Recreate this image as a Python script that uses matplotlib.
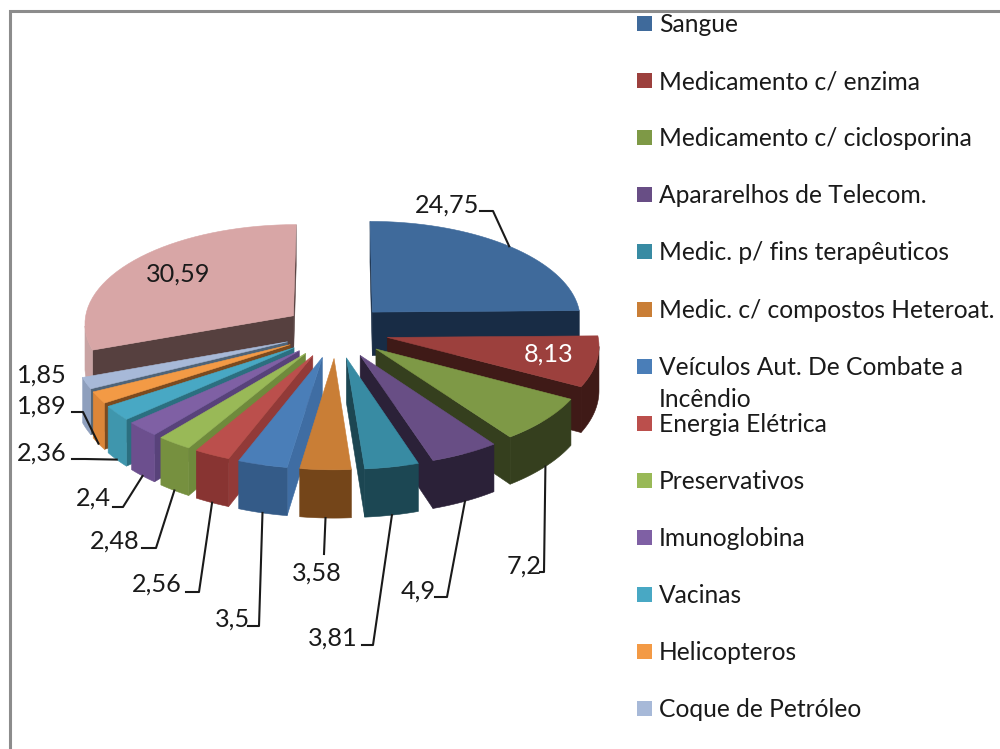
import numpy as np
import matplotlib.pyplot as plt
from matplotlib.patches import Polygon, Rectangle

plt.rcParams['font.family'] = ['Lato', 'DejaVu Sans']

# data
values = [24.75, 8.13, 7.2, 4.9, 3.81, 3.58, 3.5, 2.56, 2.48, 2.4, 2.36, 1.89, 1.85, 30.59]
value_labels = ['24,75', '8,13', '7,2', '4,9', '3,81', '3,58', '3,5', '2,56', '2,48', '2,4', '2,36', '1,89', '1,85', '30,59']
legend_names = ['Sangue', 'Medicamento c/ enzima', 'Medicamento c/ ciclosporina',
                'Apararelhos de Telecom.', 'Medic. p/ fins terapêuticos',
                'Medic. c/ compostos Heteroat.', 'Veículos Aut. De Combate a\nIncêndio',
                'Energia Elétrica', 'Preservativos', 'Imunoglobina', 'Vacinas',
                'Helicopteros', 'Coque de Petróleo']

# colours per slice: top face, outer wall, cut wall
top_colors = ['#3f6a9b', '#9c403d', '#7e9946', '#684e85', '#388ba3', '#c97e36', '#4a7eb8',
              '#bb4f4c', '#99b957', '#7f60a4', '#48a8c4', '#f39a45', '#a7b9d8', '#d8a6a6']
outer_colors = ['#182c45', '#3f1a17', '#353f1e', '#2b2138', '#1c4753', '#744519', '#345b88',
                '#883432', '#76903f', '#6c4f8e', '#3f96ad', '#dc8638', '#8e9fbd', '#c9a3a3']
cut_colors = ['#182c45', '#3f1a17', '#353f1e', '#2b2138', '#1c4652', '#744519', '#3f6da3',
              '#923a38', '#6f8a3c', '#58427a', '#2b6f80', '#7b4a1f', '#4f6478', '#56403f']

# label layout in pixels: text centre, then the elbow points of the leader
label_pos = [(447, 205), (549, 354), (524, 566), (418, 591), (333, 638), (317, 573), (232, 619),
             (157, 584), (115, 541), (93, 498), (42, 453), (42, 406), (42, 375), (178, 274)]
leader_pts = {0: [(493, 211), (480, 211)], 2: [(544, 572), (540, 572)], 3: [(447, 597), (435, 597)],
              4: [(373, 645), (362, 645)], 5: [(324, 554)], 6: [(259, 626), (248, 626)],
              7: [(199, 592), (186, 592)], 8: [(156, 548), (142, 548)], 9: [(123, 507), (113, 507)],
              10: [(85, 459), (72, 459)], 11: [(83, 412), (72, 412)]}
legend_y = [24, 81, 138, 195, 252, 310, 367, 424, 481, 538, 595, 652, 709]

# pie projection
CX, CY = 336, 331
RX, RY = 210, 99.6
PERSP = 0.07
EXPLODE_X = 0.25
EXPLODE_Y = 0.27
DEPTH = 44


def project(u, v):
    s = 1 / (1 - PERSP * v)
    return CX + RX * u * s, CY + RY * v * s, DEPTH * s


def apex_of(mid):
    return EXPLODE_X * np.sin(mid), -EXPLODE_Y * np.cos(mid)


def slice_points(t0, t1):
    au, av = apex_of((t0 + t1) / 2)
    pts = [project(au, av)]
    for t in np.linspace(t0, t1, 40):
        pts.append(project(au + np.sin(t), av - np.cos(t)))
    return pts


def draw_wall(run, col):
    upper = [(p[0], p[1]) for p in run]
    lower = [(p[0], p[1] + p[2]) for p in reversed(run)]
    ax.add_patch(Polygon(upper + lower, facecolor=col, edgecolor=col, lw=0.4, zorder=2))


fig = plt.figure(figsize=(10, 7.49), dpi=100)
ax = fig.add_axes([0, 0, 1, 1])
ax.set_xlim(0, 1000)
ax.set_ylim(749, 0)
ax.axis('off')

# chart frame, open at the right and bottom
ax.plot([10, 10, 1000], [749, 11, 11], color='#8c8c8c', lw=2.2, solid_joinstyle='miter')

edges = np.cumsum([0] + values) / sum(values) * 2 * np.pi
mids = (edges[:-1] + edges[1:]) / 2
order = np.argsort(-np.cos(mids))

for i in order:
    pts = slice_points(edges[i], edges[i + 1])
    # clockwise boundary: only edges running right to left face the viewer
    if pts[1][0] < pts[0][0]:
        draw_wall(pts[:2], cut_colors[i])
    if pts[0][0] < pts[-1][0]:
        draw_wall([pts[-1], pts[0]], cut_colors[i])
    arc = pts[1:]
    run = []
    for k in range(len(arc) - 1):
        if arc[k + 1][0] < arc[k][0]:
            run = run or [arc[k]]
            run.append(arc[k + 1])
        elif run:
            draw_wall(run, outer_colors[i])
            run = []
    if run:
        draw_wall(run, outer_colors[i])
    ax.add_patch(Polygon([(p[0], p[1]) for p in pts], facecolor=top_colors[i],
                         edgecolor=top_colors[i], lw=0.4, zorder=2))

# data labels and leaders
for i, txt in enumerate(value_labels):
    col = 'white' if i == 1 else '#1a1a1a'
    ax.text(label_pos[i][0], label_pos[i][1], txt, color=col, fontsize=18.2, ha='center', va='center', zorder=4)
    if i in leader_pts:
        au, av = apex_of(mids[i])
        x, y, d = project(au + np.sin(mids[i]), av - np.cos(mids[i]))
        if i > 0:
            y = y + d
        path = [(x, y)] + leader_pts[i]
        ax.plot([p[0] for p in path], [p[1] for p in path], color='#1a1a1a', lw=1.5, zorder=3)

# legend
for i, name in enumerate(legend_names):
    ax.add_patch(Rectangle((637, legend_y[i] - 8), 15, 15, facecolor=top_colors[i], edgecolor='none'))
    ax.text(659, legend_y[i] - 11, name, fontsize=17.7, color='#1a1a1a', ha='left', va='top',
            linespacing=1.45)

fig.savefig('out.png', dpi=100)
